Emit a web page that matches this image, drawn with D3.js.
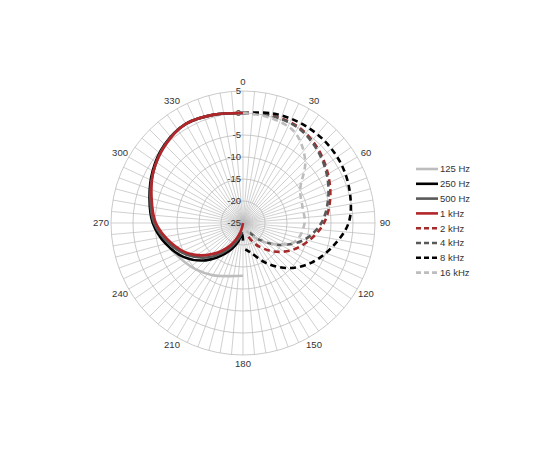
<!DOCTYPE html>
<meta charset='utf-8'>
<script src='https://cdn.jsdelivr.net/npm/d3@7'></script>
<style>
body{margin:0;background:#fff}
text{font-family:'Liberation Sans',Arial,sans-serif;font-size:9.5px;fill:#333}
</style>
<svg width='550' height='450'></svg>
<script>
// angle (deg, clockwise from top) / level (dB)
var angles125 = [360,345,330,315,300,285,270,255,240,225,210,195,180]
var vals125   = [0,0.5,1,0,-1.5,-3.3,-5,-7,-8.7,-10,-11.3,-12.5,-13]
var angles250 = [360,345,330,315,300,285,270,255,240,225,210,195,185,180]
var vals250   = [0,0.5,1,0.2,-1.3,-3,-4.5,-6.8,-9.5,-13,-17,-20.5,-22.5,-21]
var angles500 = [360,345,330,315,300,285,270,255,240,225,210,195,185]
var vals500   = [0,0.5,1,0.1,-1.5,-3.2,-4.8,-7.5,-10.5,-14,-18,-21.5,-23]
var angles1k  = [360,345,330,315,300,285,270,255,240,225,210,195,185]
var vals1k    = [0,0.5,1,0,-1.5,-3.5,-5.2,-8,-11,-15,-19,-23,-25]
var angles2k  = [0,15,30,45,60,75,90,105,120,135,150,160]
var vals2k    = [0,0.3,0.2,-1,-2.7,-4.5,-6.6,-9.5,-12.5,-16,-19.5,-22]
var angles4k  = [0,15,30,45,60,75,90,105,120,135,150]
var vals4k    = [0,0.2,0,-1.3,-3,-5,-7.2,-10.5,-15,-19.5,-23]
var angles8k  = [0,15,30,45,60,75,90,105,120,135,150,165,175]
var vals8k    = [0,0.8,1.2,1.3,1,0.2,-1,-4,-7,-10.5,-14.5,-18,-19]
var angles16k = [0,15,30,45,60,75,90,110,130,145,155]
var vals16k   = [0,-0.3,-1.3,-5,-10,-11,-11,-12.5,-18,-21.5,-23]

var seriesNames = ['125 Hz','250 Hz','500 Hz','1 kHz','2 kHz','4 kHz','8 kHz','16 kHz']
var seriesColors = ['#bdbdbd','#000000','#595959','#b2262a','#a52a2a','#595959','#000000','#bdbdbd']
var seriesDashed = [false,false,false,false,true,true,true,true]
var seriesAngles = [angles125,angles250,angles500,angles1k,angles2k,angles4k,angles8k,angles16k]
var seriesVals = [vals125,vals250,vals500,vals1k,vals2k,vals4k,vals8k,vals16k]
var rTicks = [5,0,-5,-10,-15,-20,-25]
var spokeAngles = d3.range(0,360,5)
var angleLabels = d3.range(0,360,30)

var svg = d3.select('svg')
var cx = 243, cy = 223, R = 132
var r = d3.scaleLinear().domain([-25,5]).range([0,R])
var g = svg.append('g').attr('transform', `translate(${cx},${cy})`)

// rings
g.selectAll('circle.ring').data(rTicks.filter(d => d > -25)).join('circle')
  .attr('r', d => r(d)).attr('fill','none').attr('stroke','#bcbcbc').attr('stroke-width',0.8)

// spokes
g.selectAll('line.spoke').data(spokeAngles).join('line')
  .attr('x1',0).attr('y1',0)
  .attr('x2', d => R*Math.sin(d*Math.PI/180))
  .attr('y2', d => -R*Math.cos(d*Math.PI/180))
  .attr('stroke','#bcbcbc').attr('stroke-width',0.7)

// angle labels
g.selectAll('text.ang').data(angleLabels).join('text')
  .attr('x', d => (R+10)*Math.sin(d*Math.PI/180))
  .attr('y', d => -(R+9)*Math.cos(d*Math.PI/180))
  .attr('text-anchor','middle').attr('dy','0.35em')
  .text(d => d)

// radial labels
g.selectAll('text.rad').data(rTicks).join('text')
  .attr('x', -2).attr('y', d => -r(d))
  .attr('text-anchor','end').attr('dy','0.35em')
  .text(d => d)

var line = d3.lineRadial()
  .angle(d => d[0]*Math.PI/180)
  .radius(d => r(d[1]))
  .curve(d3.curveCatmullRom)

seriesNames.forEach((name,i) => {
  var pts = d3.zip(seriesAngles[i], seriesVals[i])
  g.append('path').attr('d', line(pts))
    .attr('fill','none').attr('stroke',seriesColors[i])
    .attr('stroke-width',2.6)
    .attr('stroke-dasharray', seriesDashed[i] ? '6,4' : null)
})

// legend
var leg = svg.append('g').attr('transform','translate(416,169)')
var li = leg.selectAll('g').data(seriesNames).join('g')
  .attr('transform',(d,i) => `translate(0,${i*14.8})`)
li.append('line').attr('x1',0).attr('x2',22).attr('y1',0).attr('y2',0)
  .attr('stroke',(d,i) => seriesColors[i]).attr('stroke-width',2.6)
  .attr('stroke-dasharray',(d,i) => seriesDashed[i] ? '5,3' : null)
li.append('text').attr('x',24).attr('dy','0.35em').text(d => d)
</script>
